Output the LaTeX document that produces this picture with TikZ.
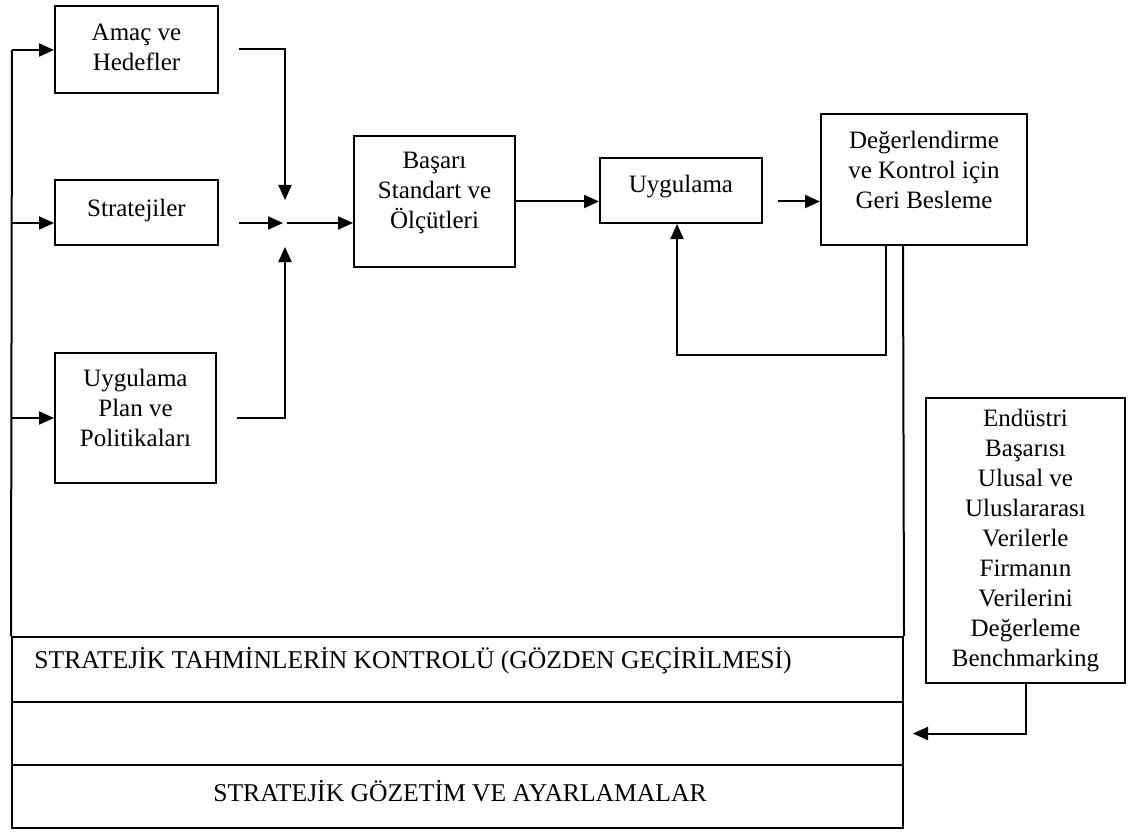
\documentclass[tikz,border=0pt]{standalone}
\usepackage{fontspec}
\setmainfont{Liberation Serif}
\usetikzlibrary{arrows.meta,fit}

\tikzset{
	box/.style={draw, line width=1pt, inner sep=0pt},
	txt/.style={align=center, inner sep=0pt, font=\fontsize{12.5}{15}\selectfont},
	rowtxt/.style={inner sep=0pt, font=\fontsize{12.8}{15}\selectfont},
	line/.style={line width=1pt},
	arr/.style={line width=1pt, -{Triangle[length=7.5pt,width=6.5pt]}}
}

\begin{document}
\begin{tikzpicture}[x=0.5pt,y=-0.5pt]
	\useasboundingbox (0,0) rectangle (1133,834);
	
	%BOXES
	\node[box, fit={(55,6) (218,93)}] (amac) {};
	\node[box, fit={(55,180) (218,245)}] (strat) {};
	\node[box, fit={(55,353) (216,483)}] (plan) {};
	\node[box, fit={(354,136) (515,267)}] (basari) {};
	\node[box, fit={(600,158) (762,223)}] (uyg) {};
	\node[box, fit={(821,114) (1027,245)}] (deger) {};
	\node[box, fit={(926,398) (1125,683)}] (endustri) {};
	
	%ROWS
	\node[box, fit={(12,637) (903,702)}] (tahmin) {};
	\node[box, fit={(12,702) (903,765)}] (bos) {};
	\node[box, fit={(12,765) (903,828)}] (gozetim) {};
	
	%TEXTS
	\node[txt] (amactxt) at (136.5,47) {Amaç ve\\Hedefler};
	\node[txt] (strattxt) at (136.5,210) {Stratejiler};
	\node[txt] (plantxt) at (135.5,408) {Uygulama\\Plan ve\\Politikaları};
	\node[txt] (basaritxt) at (434.5,193) {Başarı\\Standart ve\\Ölçütleri};
	\node[txt] (uygtxt) at (681,187) {Uygulama};
	\node[txt] (degertxt) at (924,170) {Değerlendirme\\ve Kontrol için\\Geri Besleme};
	\node[txt] (endustritxt) at (1025.5,541) {Endüstri\\Başarısı\\Ulusal ve\\Uluslararası\\Verilerle\\Firmanın\\Verilerini\\Değerleme\\Benchmarking};
	\node[rowtxt, anchor=west] (tahmintxt) at (34,661) {STRATEJİK TAHMİNLERİN KONTROLÜ (GÖZDEN GEÇİRİLMESİ)};
	\node[rowtxt] (gozetimtxt) at (460,791) {STRATEJİK GÖZETİM VE AYARLAMALAR};
	
	%LEFT BUS
	\coordinate (bus) at (12,50);
	\coordinate (jn) at (285,223);
	\draw[line] (bus) -- (tahmin.north west);
	\draw[arr] (bus) -- (amac.west |- bus);
	\draw[arr] (bus |- jn) -- (strat.west |- jn);
	\draw[arr] (bus |- plan.west) -- (plan.west);
	
	%JUNCTION
	\draw[arr] ([xshift=10pt]amac.east) -| ([yshift=11.5pt]jn);
	\draw[arr] ([xshift=10pt]strat.east |- jn) -- ([xshift=-1pt]jn);
	\draw[arr] ([xshift=10pt]plan.east) -| ([yshift=-12pt]jn);
	\draw[arr] ([xshift=1pt]jn) -- (basari.west |- jn);
	
	%MAIN FLOW
	\draw[arr] (basari.east) -- (uyg.west |- basari.east);
	\draw[arr] ([xshift=7.5pt]uyg.east |- basari.east) -- (deger.west |- basari.east);
	
	%FEEDBACK
	\draw[arr] ([xshift=-19pt]deger.south) -- ++(0,109) -| ([xshift=-2pt]uyg.south);
	\draw[line] ([xshift=-10.5pt]deger.south) -- (tahmin.north east);
	\draw[arr] (endustri.south) |- ([xshift=4.5pt]bos.east);
\end{tikzpicture}
\end{document}
